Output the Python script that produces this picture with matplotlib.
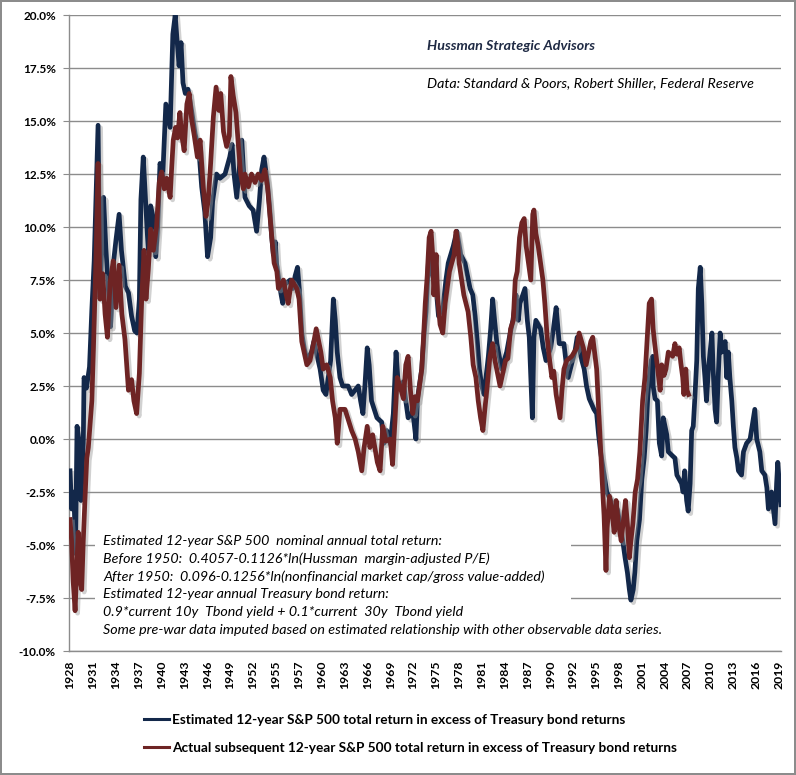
import numpy as np
import matplotlib
matplotlib.use("Agg")
import matplotlib.pyplot as plt
import matplotlib.patheffects as pe
from matplotlib.patches import Rectangle
from matplotlib.lines import Line2D
from matplotlib.ticker import FuncFormatter

plt.rcParams['font.family'] = ['Lato', 'DejaVu Sans']

# Estimated 12-year S&P 500 total return in excess of Treasury bond returns (%)
est_year = [
    1928.0, 1928.2, 1928.5, 1928.7, 1928.9, 1929.2, 1929.4, 1929.7, 1929.8,
    1930.1, 1930.5, 1930.8, 1931.1, 1931.3, 1931.6, 1931.85, 1932.3, 1932.6, 1932.9, 1933.2, 1933.6, 1933.9, 1934.3, 1934.6, 1935.1, 1935.5, 1935.9, 1936.3, 1936.6, 1936.9, 1937.1, 1937.4, 1937.75, 1938.05, 1938.35, 1938.7, 1939.0, 1939.25, 1939.55, 1939.9,
    1940.3, 1940.85, 1941.2, 1941.5, 1941.7, 1942.0, 1942.25, 1942.5, 1942.8, 1943.15, 1943.6, 1944.05, 1944.55, 1944.9, 1945.3, 1945.65, 1946.05, 1946.3, 1946.8, 1947.25, 1947.9, 1948.5, 1948.8, 1949.05, 1949.4,
    1950.05, 1950.45, 1951.0, 1951.5, 1951.95, 1952.3, 1952.6, 1952.9, 1953.3, 1953.6, 1953.9, 1954.1, 1954.35, 1954.5, 1954.8, 1955.1, 1955.3, 1955.6, 1956.25, 1956.6, 1956.9, 1957.2, 1957.45, 1957.75, 1958.05, 1958.4, 1959.0, 1959.3,
    1960.1, 1960.5, 1960.85, 1961.45, 1961.8, 1962.05, 1962.3, 1962.65, 1963.0, 1963.7, 1964.15, 1965.0, 1965.3, 1965.6, 1965.85, 1966.15, 1966.4, 1966.7, 1967.4, 1968.0, 1968.3, 1968.65, 1969.1, 1969.5, 1969.85,
    1970.15, 1970.8, 1971.1, 1971.4, 1972.0, 1972.4, 1972.6, 1973.15, 1973.45, 1973.7, 1974.0, 1974.2, 1974.4, 1975.0, 1975.3, 1975.9, 1976.25, 1976.55, 1977.2, 1977.65, 1978.15, 1978.7, 1979.35, 1979.7,
    1980.0, 1980.3, 1980.55, 1980.85, 1981.15, 1981.4, 1981.7, 1982.0, 1982.25, 1982.5, 1982.8, 1983.4, 1984.05, 1984.4, 1984.85, 1985.0, 1985.25, 1985.55, 1985.75, 1986.4, 1986.7, 1986.95, 1987.15, 1987.35, 1987.55, 1987.8, 1988.4, 1988.75, 1989.1, 1989.7,
    1990.05, 1990.4, 1990.8, 1991.4, 1991.65, 1991.95, 1992.5, 1992.8, 1993.1, 1993.7, 1994.0, 1994.3, 1994.65, 1995.25, 1995.6, 1995.85, 1996.1, 1996.4, 1996.65, 1996.9, 1997.4, 1997.65, 1998.25, 1998.6, 1998.95, 1999.25, 1999.55, 1999.8,
    2000.0, 2000.3, 2000.5, 2000.75, 2001.1, 2001.4, 2001.7, 2001.95, 2002.15, 2002.35, 2002.6, 2002.8, 2002.85, 2003.1, 2003.4, 2003.65, 2003.95, 2004.15, 2004.6, 2004.8, 2005.35, 2005.65, 2005.9, 2006.5, 2006.7, 2006.9, 2007.15, 2007.35, 2007.6, 2007.8, 2008.0, 2008.2, 2008.45, 2008.65, 2008.9, 2009.1, 2009.3, 2009.5, 2009.7, 2009.95,
    2010.4, 2010.55, 2010.8, 2011.0, 2011.2, 2011.45, 2011.65, 2012.1, 2012.3, 2012.5, 2012.7, 2012.95, 2013.15, 2013.35, 2013.6, 2013.8, 2014.2, 2014.45, 2014.85, 2015.3, 2015.9, 2016.15, 2016.55, 2016.8, 2017.2, 2017.45, 2017.65, 2018.05, 2018.5, 2018.7, 2018.85, 2019.25,
]
est_val = [
    -1.5, -3.3, -2.5, -5.4, 0.6, -0.2, -2.9, -0.2, 2.9,
    2.4, 3.4, 6.1, 8.4, 11.0, 14.8, 6.7, 11.4, 9.0, 7.2, 5.3, 8.4, 9.4, 10.6, 8.9, 7.2, 6.9, 5.8, 5.1, 5.0, 6.6, 11.3, 13.3, 10.9, 8.8, 11.0, 10.4, 8.6, 10.0, 13.0, 12.4,
    15.8, 14.7, 19.1, 20.0, 19.0, 17.6, 18.7, 16.8, 16.3, 16.5, 15.5, 14.4, 13.6, 11.9, 10.7, 8.6, 9.5, 11.2, 12.5, 12.3, 12.5, 13.3, 13.9, 12.5, 11.4,
    14.1, 11.4, 11.0, 10.8, 9.8, 11.2, 12.7, 13.3, 12.2, 11.0, 9.5, 8.7, 9.3, 8.3, 7.5, 6.8, 6.4, 7.3, 7.5, 7.1, 7.7, 8.1, 7.0, 5.0, 4.3, 3.7, 4.1, 4.6,
    3.3, 2.3, 2.1, 3.7, 6.6, 5.6, 4.1, 2.9, 2.5, 2.5, 2.1, 2.5, 1.8, 1.2, 2.5, 4.3, 3.5, 1.8, 1.0, 0.8, -0.2, 0.4, -0.2, 1.2, 4.1,
    2.5, 2.7, 1.8, 1.0, 1.3, 0.0, 1.9, 3.3, 5.0, 6.0, 8.3, 8.7, 7.9, 7.1, 5.8, 6.3, 7.5, 8.3, 9.1, 9.8, 8.7, 8.3, 7.1, 6.8,
    5.8, 4.5, 3.3, 2.5, 2.1, 2.9, 3.9, 5.2, 6.6, 5.6, 4.5, 3.3, 4.1, 4.8, 5.6, 6.0, 6.8, 5.6, 6.4, 7.1, 5.6, 4.8, 2.9, 1.0, 4.8, 5.6, 5.2, 4.3, 3.7, 4.3,
    5.2, 6.2, 4.5, 4.5, 3.7, 2.9, 3.7, 4.1, 4.8, 3.7, 3.3, 2.5, 1.9, 1.4, 1.2, 0.2, -0.6, -1.3, -1.9, -2.5, -2.9, -3.4, -3.3, -4.0, -4.8, -5.6, -6.3, -7.1,
    -7.6, -7.1, -6.3, -4.8, -3.8, -1.9, -0.9, 0.4, 1.9, 2.9, 3.7, 3.9, 2.5, 1.9, 1.8, -0.2, -0.8, 1.0, 0.2, -0.6, -0.8, -0.9, -1.7, -2.1, -2.5, -1.5, -2.9, -3.4, -2.1, 0.4, 0.6, 1.9, 3.7, 7.1, 8.1, 6.4, 3.9, 2.9, 1.8, 3.3,
    5.0, 3.3, 1.4, 0.8, 2.9, 5.0, 4.1, 4.6, 2.9, 4.1, 2.9, 1.8, 0.6, -0.4, -0.9, -1.5, -1.7, -0.6, -0.2, 0.0, 1.4, 0.0, -0.6, -1.5, -1.7, -2.3, -3.3, -2.5, -4.0, -2.1, -1.1, -3.1,
]

# Actual subsequent 12-year S&P 500 total return in excess of Treasury bond returns (%)
act_year = [
    1928.0, 1928.2, 1928.4, 1928.65, 1928.85, 1929.05, 1929.3, 1929.5, 1929.7, 1929.9,
    1930.15, 1930.35, 1930.8, 1931.0, 1931.35, 1931.6, 1931.85, 1932.2, 1932.5, 1932.8, 1933.15, 1933.55, 1933.9, 1934.3, 1934.65, 1935.05, 1935.5, 1935.9, 1936.2, 1936.55, 1936.9, 1937.2, 1937.5, 1937.75, 1938.05, 1938.35, 1938.7, 1939.1, 1939.45, 1939.75,
    1940.1, 1940.4, 1940.85, 1941.05, 1941.25, 1941.55, 1941.8, 1942.1, 1942.35, 1942.65, 1943.0, 1943.3, 1943.6, 1943.95, 1944.35, 1944.7, 1945.1, 1945.45, 1945.75, 1946.05, 1946.4, 1946.75, 1947.1, 1947.35, 1947.7, 1948.1, 1948.45, 1948.65, 1948.95, 1949.3, 1949.6, 1949.9,
    1950.25, 1950.45, 1950.9, 1951.3, 1951.75, 1952.15, 1952.6, 1953.0, 1953.35, 1953.65, 1953.9, 1954.2, 1954.55, 1954.75, 1955.4, 1955.75, 1956.0, 1956.45, 1957.1, 1957.4, 1957.75, 1958.05, 1958.4, 1958.8, 1959.25, 1959.6,
    1960.2, 1960.5, 1960.95, 1961.4, 1961.7, 1962.05, 1962.3, 1962.65, 1963.3, 1964.15, 1964.6, 1965.0, 1965.45, 1965.75, 1966.15, 1966.5, 1966.85, 1967.45, 1967.8, 1968.15, 1968.55, 1969.1, 1969.4, 1969.7,
    1970.0, 1970.35, 1970.8, 1971.1, 1971.4, 1971.7, 1972.0, 1972.3, 1972.6, 1973.15, 1973.35, 1973.6, 1973.85, 1974.1, 1974.35, 1974.55, 1974.7, 1975.0, 1975.2, 1975.5, 1975.85, 1976.15, 1976.7, 1977.0, 1977.3, 1977.55, 1977.75, 1977.95, 1978.55, 1979.1, 1979.45, 1979.75,
    1980.1, 1980.4, 1980.7, 1981.0, 1981.25, 1981.55, 1981.9, 1982.25, 1982.55, 1983.2, 1983.9, 1984.2, 1984.55, 1984.9, 1985.15, 1985.4, 1985.7, 1986.0, 1986.3, 1986.55, 1986.85, 1987.15, 1987.4, 1987.55, 1987.8, 1988.1, 1988.4, 1988.7, 1988.95, 1989.25, 1989.5, 1989.85,
    1990.1, 1990.4, 1990.9, 1991.15, 1991.4, 1991.75, 1992.4, 1993.05, 1993.35, 1993.9, 1994.25, 1994.85, 1995.1, 1995.4, 1995.6, 1995.8, 1996.05, 1996.3, 1996.55, 1996.8, 1996.95, 1997.25, 1997.55, 1997.85, 1998.1, 1998.4, 1998.75, 1999.05, 1999.3, 1999.55, 1999.8,
    2000.0, 2000.25, 2000.55, 2000.85, 2001.15, 2001.5, 2001.8, 2002.1, 2002.35, 2002.65, 2002.85, 2003.05, 2003.3, 2003.75, 2003.95, 2004.25, 2004.5, 2004.8, 2005.35, 2005.65, 2005.9, 2006.2, 2006.4, 2006.65, 2006.8, 2007.05, 2007.2, 2007.4,
]
act_val = [
    -3.8, -4.8, -6.7, -8.1, -6.3, -4.4, -6.7, -7.1, -4.8, -3.0,
    -0.9, -0.4, 1.8, 4.2, 8.8, 13.0, 6.6, 7.8, 5.9, 4.8, 7.4, 8.4, 6.2, 8.2, 5.9, 4.7, 2.3, 2.8, 1.8, 1.2, 3.1, 6.6, 8.9, 6.6, 8.0, 9.9, 8.9, 10.0, 12.1, 12.6,
    11.8, 12.3, 11.4, 12.8, 14.1, 14.7, 14.2, 15.4, 14.3, 13.6, 15.8, 16.3, 15.1, 14.3, 13.3, 14.1, 11.9, 10.5, 11.3, 13.0, 15.2, 16.6, 15.5, 16.3, 14.5, 13.8, 14.3, 17.1, 16.2, 15.4, 13.9, 12.5,
    11.8, 12.5, 11.9, 12.5, 12.1, 12.5, 12.2, 12.7, 11.9, 10.6, 9.5, 8.3, 7.9, 7.1, 7.5, 6.8, 6.4, 7.5, 7.1, 6.6, 4.6, 4.1, 3.5, 3.7, 4.5, 5.2,
    4.1, 3.3, 3.5, 2.9, 1.8, 1.0, -0.2, 1.4, 1.4, 0.4, 0.0, -0.6, -1.5, -0.4, 0.6, -0.4, 0.2, -1.1, -1.5, 0.6, -0.1, 0.0, -1.2, 0.8,
    2.9, 2.5, 1.9, 3.5, 3.9, 2.3, 1.2, 2.0, 1.8, 3.3, 4.6, 6.4, 7.7, 9.5, 9.8, 8.7, 6.8, 8.7, 6.6, 5.4, 5.0, 6.4, 7.9, 8.3, 8.7, 9.8, 9.3, 8.3, 6.8, 6.0, 4.8, 3.5,
    2.9, 1.8, 1.0, 0.4, 1.4, 2.5, 3.9, 4.5, 3.7, 2.5, 3.7, 3.8, 5.2, 5.6, 7.5, 7.9, 9.5, 10.2, 10.4, 9.1, 8.3, 7.5, 10.6, 10.8, 9.7, 9.1, 8.3, 7.5, 6.4, 4.8, 3.9, 2.9,
    3.2, 2.1, 1.0, 2.3, 3.3, 3.7, 3.9, 4.3, 5.0, 4.3, 3.5, 4.6, 4.8, 3.9, 3.3, 1.8, 0.0, -1.9, -3.6, -6.2, -4.2, -2.7, -3.4, -4.4, -2.9, -4.0, -4.8, -3.8, -2.9, -4.0, -5.6,
    -4.8, -4.0, -2.5, -1.9, -0.6, 1.8, 2.9, 4.8, 6.4, 6.6, 5.2, 4.5, 3.7, 2.3, 3.5, 3.0, 3.3, 4.1, 3.9, 4.5, 4.0, 4.3, 3.6, 2.9, 2.1, 3.3, 2.3, 2.1,
]

year_labels = ['1928', '1931', '1934', '1937', '1940', '1943', '1946', '1949', '1952',
               '1955', '1957', '1960', '1963', '1966', '1969', '1972', '1975', '1978',
               '1981', '1984', '1987', '1990', '1992', '1995', '1998', '2001', '2004',
               '2007', '2010', '2013', '2016', '2019']

notes = [
    "Estimated 12-year S&P 500  nominal annual total return:",
    "Before 1950:  0.4057-0.1126*ln(Hussman  margin-adjusted P/E)",
    "After 1950:  0.096-0.1256*ln(nonfinancial market cap/gross value-added)",
    "Estimated 12-year annual Treasury bond return:",
    "0.9*current 10y  Tbond yield + 0.1*current  30y  Tbond yield",
    "Some pre-war data imputed based on estimated relationship with other observable data series.",
]

est_label = "Estimated 12-year S&P 500 total return in excess of Treasury bond returns"
act_label = "Actual subsequent 12-year S&P 500 total return in excess of Treasury bond returns"

navy = '#13284A'
maroon = '#6E2424'
grid_gray = '#8C8C8C'

fig = plt.figure(figsize=(7.96, 7.75), dpi=100)
fig.patch.set_edgecolor('#8C8C8C')
fig.patch.set_linewidth(1.5)
ax = fig.add_axes([0.0867, 0.16, 0.8945, 0.8206])

shadow = [pe.SimpleLineShadow(offset=(1.8, -1.8), shadow_color='#9A9A9A', alpha=0.45), pe.Normal()]
ax.plot(est_year, est_val, color=navy, lw=3.4, solid_joinstyle='round',
        path_effects=shadow, zorder=3)
ax.plot(act_year, act_val, color=maroon, lw=3.4, solid_joinstyle='round',
        path_effects=shadow, zorder=4)

ax.set_xlim(1927.87, 2019.27)
ax.set_ylim(-10, 20)
ax.set_yticks(np.arange(-10, 20.1, 2.5))
ax.yaxis.set_major_formatter(FuncFormatter(lambda v, p: f"{v:.1f}%"))
ax.yaxis.grid(True, color=grid_gray, lw=1.0)
ax.set_axisbelow(True)

ax.set_xticks(np.linspace(1928, 2019, len(year_labels)))
ax.set_xticklabels(year_labels, rotation=90)

for s in ['top', 'right']:
    ax.spines[s].set_visible(False)
for s in ['left', 'bottom']:
    ax.spines[s].set_color(grid_gray)
    ax.spines[s].set_linewidth(1.0)

ax.tick_params(axis='y', direction='out', length=4.5, color=grid_gray, pad=5,
               labelsize=8.5)
ax.tick_params(axis='x', length=0, pad=7, labelsize=8.8)
for lab in ax.get_xticklabels() + ax.get_yticklabels():
    lab.set_fontweight('bold')

# white note box that hides the gridlines behind the formula text
ax.add_patch(Rectangle((0.036, 0.017), 0.669, 0.181, transform=ax.transAxes,
                       facecolor='white', edgecolor='none', zorder=1.5))
for i, line in enumerate(notes):
    ax.text(0.0478, 0.173 - i * 0.028, line, transform=ax.transAxes,
            fontsize=10.3, style='italic', va='center', ha='left', zorder=5)

ax.text(0.5025, 0.952, "Hussman Strategic Advisors", transform=ax.transAxes,
        fontsize=10.3, style='italic', fontweight='bold', color='#1F2A44',
        va='center', ha='left')
ax.text(0.5025, 0.8935, "Data: Standard & Poors, Robert Shiller, Federal Reserve",
        transform=ax.transAxes, fontsize=10.3, style='italic', va='center', ha='left')

handles = [Line2D([], [], color=navy, lw=2.2), Line2D([], [], color=maroon, lw=2.2)]
leg = fig.legend(handles, [est_label, act_label], loc='upper left',
                 bbox_to_anchor=(0.172, 0.088), frameon=False, handlelength=1.85,
                 handletextpad=0.2, labelspacing=1.2, borderpad=0,
                 prop={'size': 9.8, 'weight': 'bold'})

fig.savefig('out.png', dpi=100, edgecolor=fig.get_edgecolor())
